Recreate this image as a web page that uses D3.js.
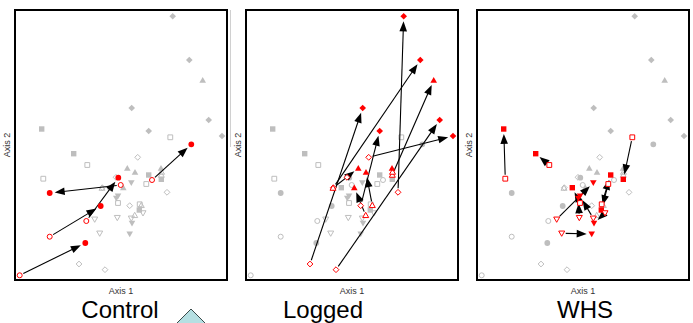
<!DOCTYPE html>
<html>
<head>
<meta charset="utf-8">
<script src="https://cdn.jsdelivr.net/npm/d3@7"></script>
<style>
  body { margin: 0; background: #fff; }
  svg { display: block; font-family: "Liberation Sans", Arial, sans-serif; }
</style>
</head>
<body>
<div id="chart"></div>
<script>
// NMDS scores, [axis1, axis2]
// before = open symbol, after = filled symbol
var controlBefore = [[-1.013, -1.303], [-0.713, -0.917], [-0.347, -0.76], [-0.003, -0.40], [0.31, -0.35]];
var controlAfter  = [[-0.357, -0.98], [-0.203, -0.61], [-0.027, -0.327], [-0.713, -0.48], [0.703, 0.007]];

var loggedDiamondBefore = [[-0.42, -1.19], [-0.16, -1.247], [-0.187, -0.427], [0.46, -0.473], [0.087, -0.607], [0.167, -0.123]];
var loggedDiamondAfter  = [[0.107, 0.37], [0.877, 0.25], [0.683, 0.85], [0.517, 1.287], [0.277, 0.14], [1.01, 0.09]];
var loggedTriBefore = [[-0.19, -0.43], [0.203, -0.603], [0.137, -0.703], [0.403, -0.30], [0.405, -0.27]];
var loggedTriAfter  = [[0.063, -0.233], [0.14, -0.273], [0.023, -0.427], [0.817, 0.647], [0.40, -0.233]];
var loggedExtra = [[-0.05, -0.323]];

var whsSquareBefore = [[-0.777, -0.337], [-0.337, -0.20], [0.493, 0.077], [0.187, -0.593], [0.253, -0.39], [-0.03, -0.58]];
var whsSquareAfter  = [[-0.793, 0.16], [-0.473, -0.087], [0.403, -0.343], [0.277, -0.30], [0.183, -0.65], [-0.107, -0.427]];
var whsDownBefore = [[-0.213, -0.883], [-0.263, -0.743], [-0.037, -0.727], [0.103, -0.733], [0.22, -0.68]];
var whsDownAfter  = [[0.087, -0.89], [0.103, -0.377], [-0.047, -0.533], [-0.03, -0.51], [0.11, -0.783]];

var panelNames = ["Control", "Logged", "WHS"];

var series = [
  {group: "Control", shape: "circle", before: controlBefore, after: controlAfter},
  {group: "Logged", shape: "diamond", before: loggedDiamondBefore, after: loggedDiamondAfter},
  {group: "Logged", shape: "up", before: loggedTriBefore, after: loggedTriAfter},
  {group: "Logged", shape: "diamond", before: loggedExtra, after: []},
  {group: "WHS", shape: "square", before: whsSquareBefore, after: whsSquareAfter},
  {group: "WHS", shape: "down", before: whsDownBefore, after: whsDownAfter}
];

var svgWidth = 693, svgHeight = 323;
var panelW = 212, panelH = 270, panelTop = 10;
var lefts = [15, 246, 477];
var titleX = [120, 323, 585];

var svg = d3.select("#chart").append("svg")
  .attr("width", svgWidth)
  .attr("height", svgHeight);

function circlePath(r) {
  var p = d3.path();
  p.arc(0, 0, r, 0, 2 * Math.PI);
  p.closePath();
  return p.toString();
}

function symbolPath(shape, filled) {
  if (shape == "circle") return circlePath(filled ? 2.9 : 2.5);
  if (shape == "square") { var s = filled ? 2.7 : 2.4; return "M" + (-s) + "," + (-s) + "H" + s + "V" + s + "H" + (-s) + "Z"; }
  if (shape == "diamond") { var d = filled ? 3.3 : 2.9; return "M0," + (-d) + "L" + d + ",0L0," + d + "L" + (-d) + ",0Z"; }
  if (shape == "up") { var t = filled ? 3.3 : 3; return "M0," + (-t) + "L" + t + "," + (t * 0.75) + "L" + (-t) + "," + (t * 0.75) + "Z"; }
  if (shape == "down") { var t2 = filled ? 3.3 : 3; return "M0," + t2 + "L" + t2 + "," + (-t2 * 0.75) + "L" + (-t2) + "," + (-t2 * 0.75) + "Z"; }
}

panelNames.forEach(function(name, i) {
  var x = d3.scaleLinear().domain([-1.06, 1.06]).range([lefts[i], lefts[i] + panelW]);
  var y = d3.scaleLinear().domain([1.35, -1.35]).range([panelTop, panelTop + panelH]);
  var g = svg.append("g");

  // box
  g.append("rect")
    .attr("x", lefts[i]).attr("y", panelTop)
    .attr("width", panelW).attr("height", panelH)
    .attr("fill", "white").attr("stroke", "black").attr("stroke-width", 2);

  var pts = [];
  series.forEach(function(s) {
    s.before.forEach(function(d) { pts.push({p: d, shape: s.shape, filled: false, focus: s.group == name}); });
    s.after.forEach(function(d) { pts.push({p: d, shape: s.shape, filled: true, focus: s.group == name}); });
  });

  // background points first
  g.selectAll("path.bg")
    .data(pts.filter(d => !d.focus))
    .enter().append("path")
    .attr("class", "bg")
    .attr("transform", d => `translate(${x(d.p[0])},${y(d.p[1])})`)
    .attr("d", d => symbolPath(d.shape, d.filled))
    .attr("fill", d => d.filled ? "#bebebe" : "none")
    .attr("stroke", d => d.filled ? "none" : "#bebebe")
    .attr("stroke-width", 1);

  // arrows from before to after
  series.filter(s => s.group == name).forEach(function(s) {
    s.after.forEach(function(a, k) {
      var b = s.before[k];
      var x0 = x(b[0]), y0 = y(b[1]), x1 = x(a[0]), y1 = y(a[1]);
      var len = Math.hypot(x1 - x0, y1 - y0);
      if (len < 8) return;
      var ux = (x1 - x0) / len, uy = (y1 - y0) / len;
      var sx = x0 + ux * 4, sy = y0 + uy * 4;
      var ex = x1 - ux * 5, ey = y1 - uy * 5;
      var bx = ex - ux * 10, by = ey - uy * 10;
      g.append("line")
        .attr("x1", sx).attr("y1", sy)
        .attr("x2", ex - ux * 4).attr("y2", ey - uy * 4)
        .attr("stroke", "black").attr("stroke-width", 1.1);
      g.append("path")
        .attr("d", `M${ex},${ey}L${bx - uy * 3.8},${by + ux * 3.8}L${bx + uy * 3.8},${by - ux * 3.8}Z`)
        .attr("fill", "black");
    });
  });

  // focus points in red
  g.selectAll("path.fg")
    .data(pts.filter(d => d.focus))
    .enter().append("path")
    .attr("class", "fg")
    .attr("transform", d => `translate(${x(d.p[0])},${y(d.p[1])})`)
    .attr("d", d => symbolPath(d.shape, d.filled))
    .attr("fill", d => d.filled ? "#ff0000" : "white")
    .attr("stroke", d => d.filled ? "none" : "#ff0000")
    .attr("stroke-width", 1);

  // axis labels
  g.append("text")
    .attr("x", lefts[i] + panelW / 2).attr("y", 294)
    .attr("text-anchor", "middle")
    .attr("font-size", "9px").attr("fill", "#333")
    .text("Axis 1");
  g.append("text")
    .attr("transform", `translate(${lefts[i] - 5}, ${panelTop + panelH / 2}) rotate(-90)`)
    .attr("text-anchor", "middle")
    .attr("font-size", "9px").attr("fill", "#333")
    .text("Axis 2");

  // panel title
  svg.append("text")
    .attr("x", titleX[i]).attr("y", 318)
    .attr("text-anchor", "middle")
    .attr("font-size", "24px").attr("fill", "black")
    .text(name);
});

// faint edge line and the stray diamond shape under the first panel
svg.append("line")
  .attr("x1", 230.5).attr("x2", 230.5).attr("y1", 10).attr("y2", 147)
  .attr("stroke", "#d0d0d0").attr("stroke-width", 1);
svg.append("path")
  .attr("d", "M191,309L218,336L191,363L164,336Z")
  .attr("fill", "#b5dfe2").attr("stroke", "#3a4a4a").attr("stroke-width", 1);
</script>
</body>
</html>
